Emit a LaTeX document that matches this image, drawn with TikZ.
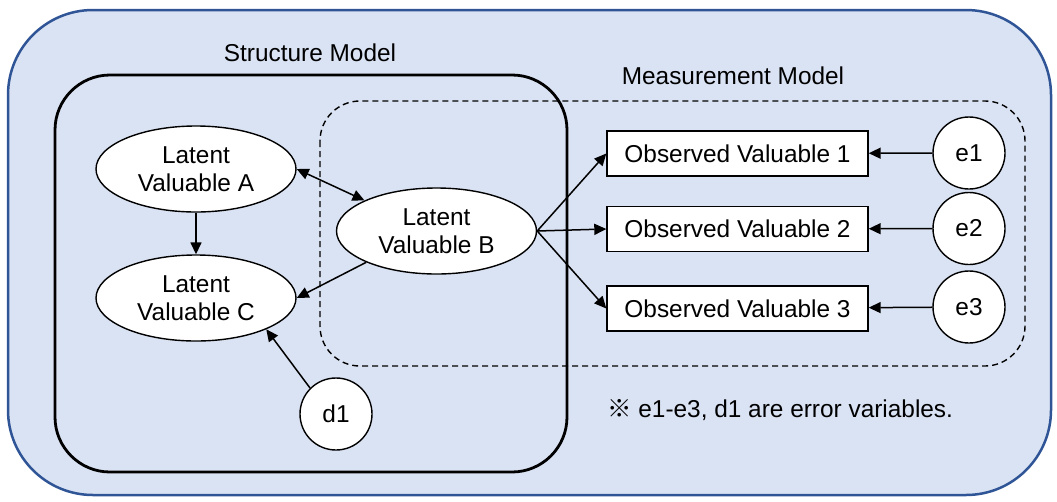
\documentclass[tikz,border=0pt]{standalone}
\usepackage{fontspec}
\setmainfont{Liberation Sans}
\newfontfamily\cjkfont{Noto Sans CJK JP}
\usetikzlibrary{shapes.geometric,arrows.meta}
\definecolor{bgblue}{HTML}{DAE3F3}
\definecolor{borderblue}{HTML}{2F5597}
\tikzset{
  lat/.style={ellipse,draw=black,line width=1.4pt,fill=white,minimum width=200pt,minimum height=86pt,inner sep=0pt,align=center,font=\fontsize{24.4}{28}\selectfont},
  obs/.style={rectangle,draw=black,line width=1.4pt,fill=white,minimum width=261pt,minimum height=45pt,inner sep=0pt,font=\fontsize{24.4}{28}\selectfont},
  err/.style={circle,draw=black,line width=1.4pt,fill=white,minimum size=72pt,inner sep=0pt,font=\fontsize{24.4}{28}\selectfont},
  lbl/.style={font=\fontsize{24.4}{28}\selectfont,inner sep=0pt},
  arr/.style={line width=1.5pt,-{Triangle[length=12pt,width=11pt]}},
  darr/.style={line width=1.5pt,{Triangle[length=12pt,width=11pt]}-{Triangle[length=12pt,width=11pt]}},
}
\begin{document}
\begin{tikzpicture}[x=1pt,y=-1pt]
\useasboundingbox (0,0) rectangle (1057,501);
% outer panel
\draw[fill=bgblue,draw=borderblue,line width=2.5pt,rounded corners=85pt] (8,10) rectangle (1051,495);
% structure model frame
\draw[line width=2.8pt,rounded corners=55pt] (55,75) rectangle (567,472);
\node[lbl] (slabel) at (310,53) {Structure Model};
% measurement model frame
\draw[line width=1.4pt,dashed,dash pattern=on 6pt off 4pt,rounded corners=40pt] (320,101) rectangle (1025,366);
\node[lbl] (mlabel) at (733,76) {Measurement Model};
% latent variables
\node[lat] (A) at (196,169) {Latent\\Valuable A};
\node[lat] (C) at (196,298) {Latent\\Valuable C};
\node[lat] (B) at (436.5,231) {Latent\\Valuable B};
\node[err] (d1) at (336,414) {d1};
% observed variables
\node[obs] (O1) at (737.5,153.5) {Observed Valuable 1};
\node[obs] (O2) at (737.5,229) {Observed Valuable 2};
\node[obs] (O3) at (737.5,308.5) {Observed Valuable 3};
\node[err] (e1) at (969,153) {e1};
\node[err] (e2) at (969,228.5) {e2};
\node[err] (e3) at (969,307) {e3};
% note
\node[lbl,anchor=west] (note) at (607,410) {{\cjkfont ※} e1-e3, d1 are error variables.};
% connectors
\draw[arr] (A) -- (C);
\draw[darr] (A.east) -- (B.157);
\draw[arr] (B.204) -- (C.east);
\draw[arr] (d1.135) -- (C.-24);
\draw[arr] (B.east) -- (O1.west);
\draw[arr] (B.east) -- (O2.west);
\draw[arr] (B.east) -- (O3.west);
\draw[arr] (e1) -- (O1);
\draw[arr] (e2) -- (O2);
\draw[arr] (e3) -- (O3);
\end{tikzpicture}
\end{document}
